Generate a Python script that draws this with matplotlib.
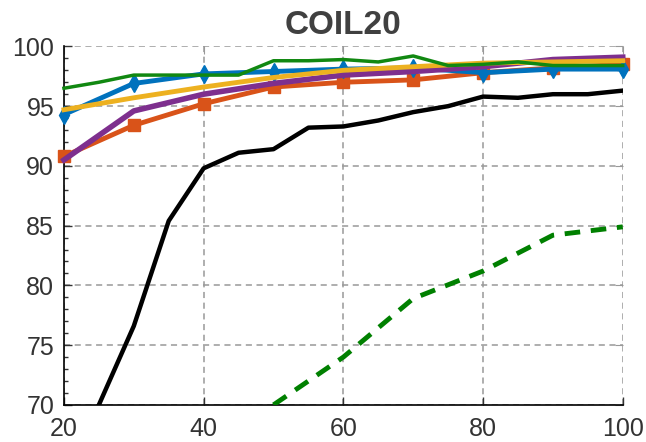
import matplotlib
matplotlib.use("Agg")
import matplotlib.pyplot as plt
from matplotlib.ticker import MultipleLocator

x5 = [20, 25, 30, 35, 40, 45, 50, 55, 60, 65, 70, 75, 80, 85, 90, 95, 100]
x10 = [20, 30, 40, 50, 60, 70, 80, 90, 100]

black_x = [25, 30, 35, 40, 45, 50, 55, 60, 65, 70, 75, 80, 85, 90, 95, 100]
black_y = [70.0, 76.6, 85.4, 89.8, 91.1, 91.4, 93.2, 93.3, 93.8, 94.5, 95.0, 95.8, 95.7, 96.0, 96.0, 96.3]

green_y = [96.5, 97.0, 97.6, 97.6, 97.6, 97.6, 98.8, 98.8, 98.9, 98.7, 99.2, 98.4, 98.5, 98.7, 98.4, 98.4, 98.4]

blue_y = [94.3, 96.9, 97.7, 97.9, 98.1, 98.2, 97.8, 98.1, 98.1]
yellow_y = [94.7, 95.7, 96.6, 97.4, 98.0, 98.3, 98.6, 98.7, 98.8]
purple_y = [90.5, 94.6, 96.0, 96.9, 97.6, 97.9, 98.3, 98.9, 99.1]
orange_y = [90.8, 93.4, 95.2, 96.6, 97.0, 97.2, 97.8, 98.2, 98.5]

dash_x = [50, 60, 70, 80, 90, 100]
dash_y = [70.0, 74.0, 78.9, 81.2, 84.2, 84.9]

xticks = [20, 40, 60, 80, 100]
yticks = [70, 75, 80, 85, 90, 95, 100]

plt.rcParams['font.family'] = ['Liberation Sans', 'DejaVu Sans']

fig = plt.figure(figsize=(6.46, 4.42), dpi=100)
ax = fig.add_axes([0.099, 0.084, 0.865, 0.811])

ax.plot(dash_x, dash_y, color='#008000', lw=3.5, ls=(0, (3.2, 2.2)), zorder=3)
ax.plot(black_x, black_y, color='black', lw=3.2, zorder=4)
ax.plot(x10, orange_y, color='#D95319', lw=3.5, marker='s', ms=8, zorder=5, clip_on=False)
ax.plot(x10, blue_y, color='#0072BD', lw=3.5, marker='d', ms=9, zorder=6, clip_on=False)
ax.plot(x10, purple_y, color='#7E2F8E', lw=4, zorder=7, clip_on=False)
ax.plot(x10, yellow_y, color='#EDB120', lw=3.5, zorder=8, clip_on=False)
ax.plot(x5, green_y, color='#118811', lw=2.5, zorder=9, clip_on=False)

ax.set_xlim(20, 100)
ax.set_ylim(70, 100)
ax.set_xticks(xticks)
ax.set_yticks(yticks)
ax.yaxis.set_minor_locator(MultipleLocator(1))
ax.grid(True, which='major', color='#999999', ls=(0, (4, 3)), lw=1.1)

for s in ['top', 'right']:
    ax.spines[s].set_visible(False)
for s in ['left', 'bottom']:
    ax.spines[s].set_linewidth(1.2)
ax.tick_params(axis='both', which='both', direction='in', labelsize=18, colors='#333333',
               top=False, right=False, length=6, width=1)
ax.tick_params(axis='y', which='minor', length=3)
ax.tick_params(axis='x', which='major', pad=9)
ax.tick_params(axis='y', which='major', pad=7)

sx = ax.secondary_xaxis('top')
sx.set_xticks(xticks)
sx.tick_params(direction='in', length=6, color='#999999', labeltop=False)
sx.spines['top'].set_visible(False)
sy = ax.secondary_yaxis('right')
sy.set_yticks(yticks)
sy.tick_params(direction='in', length=6, color='#999999', labelright=False)
sy.spines['right'].set_visible(False)

ax.set_title('COIL20', fontsize=24, fontweight='bold', color='#404040', pad=9)

fig.savefig('out.png', dpi=100)
